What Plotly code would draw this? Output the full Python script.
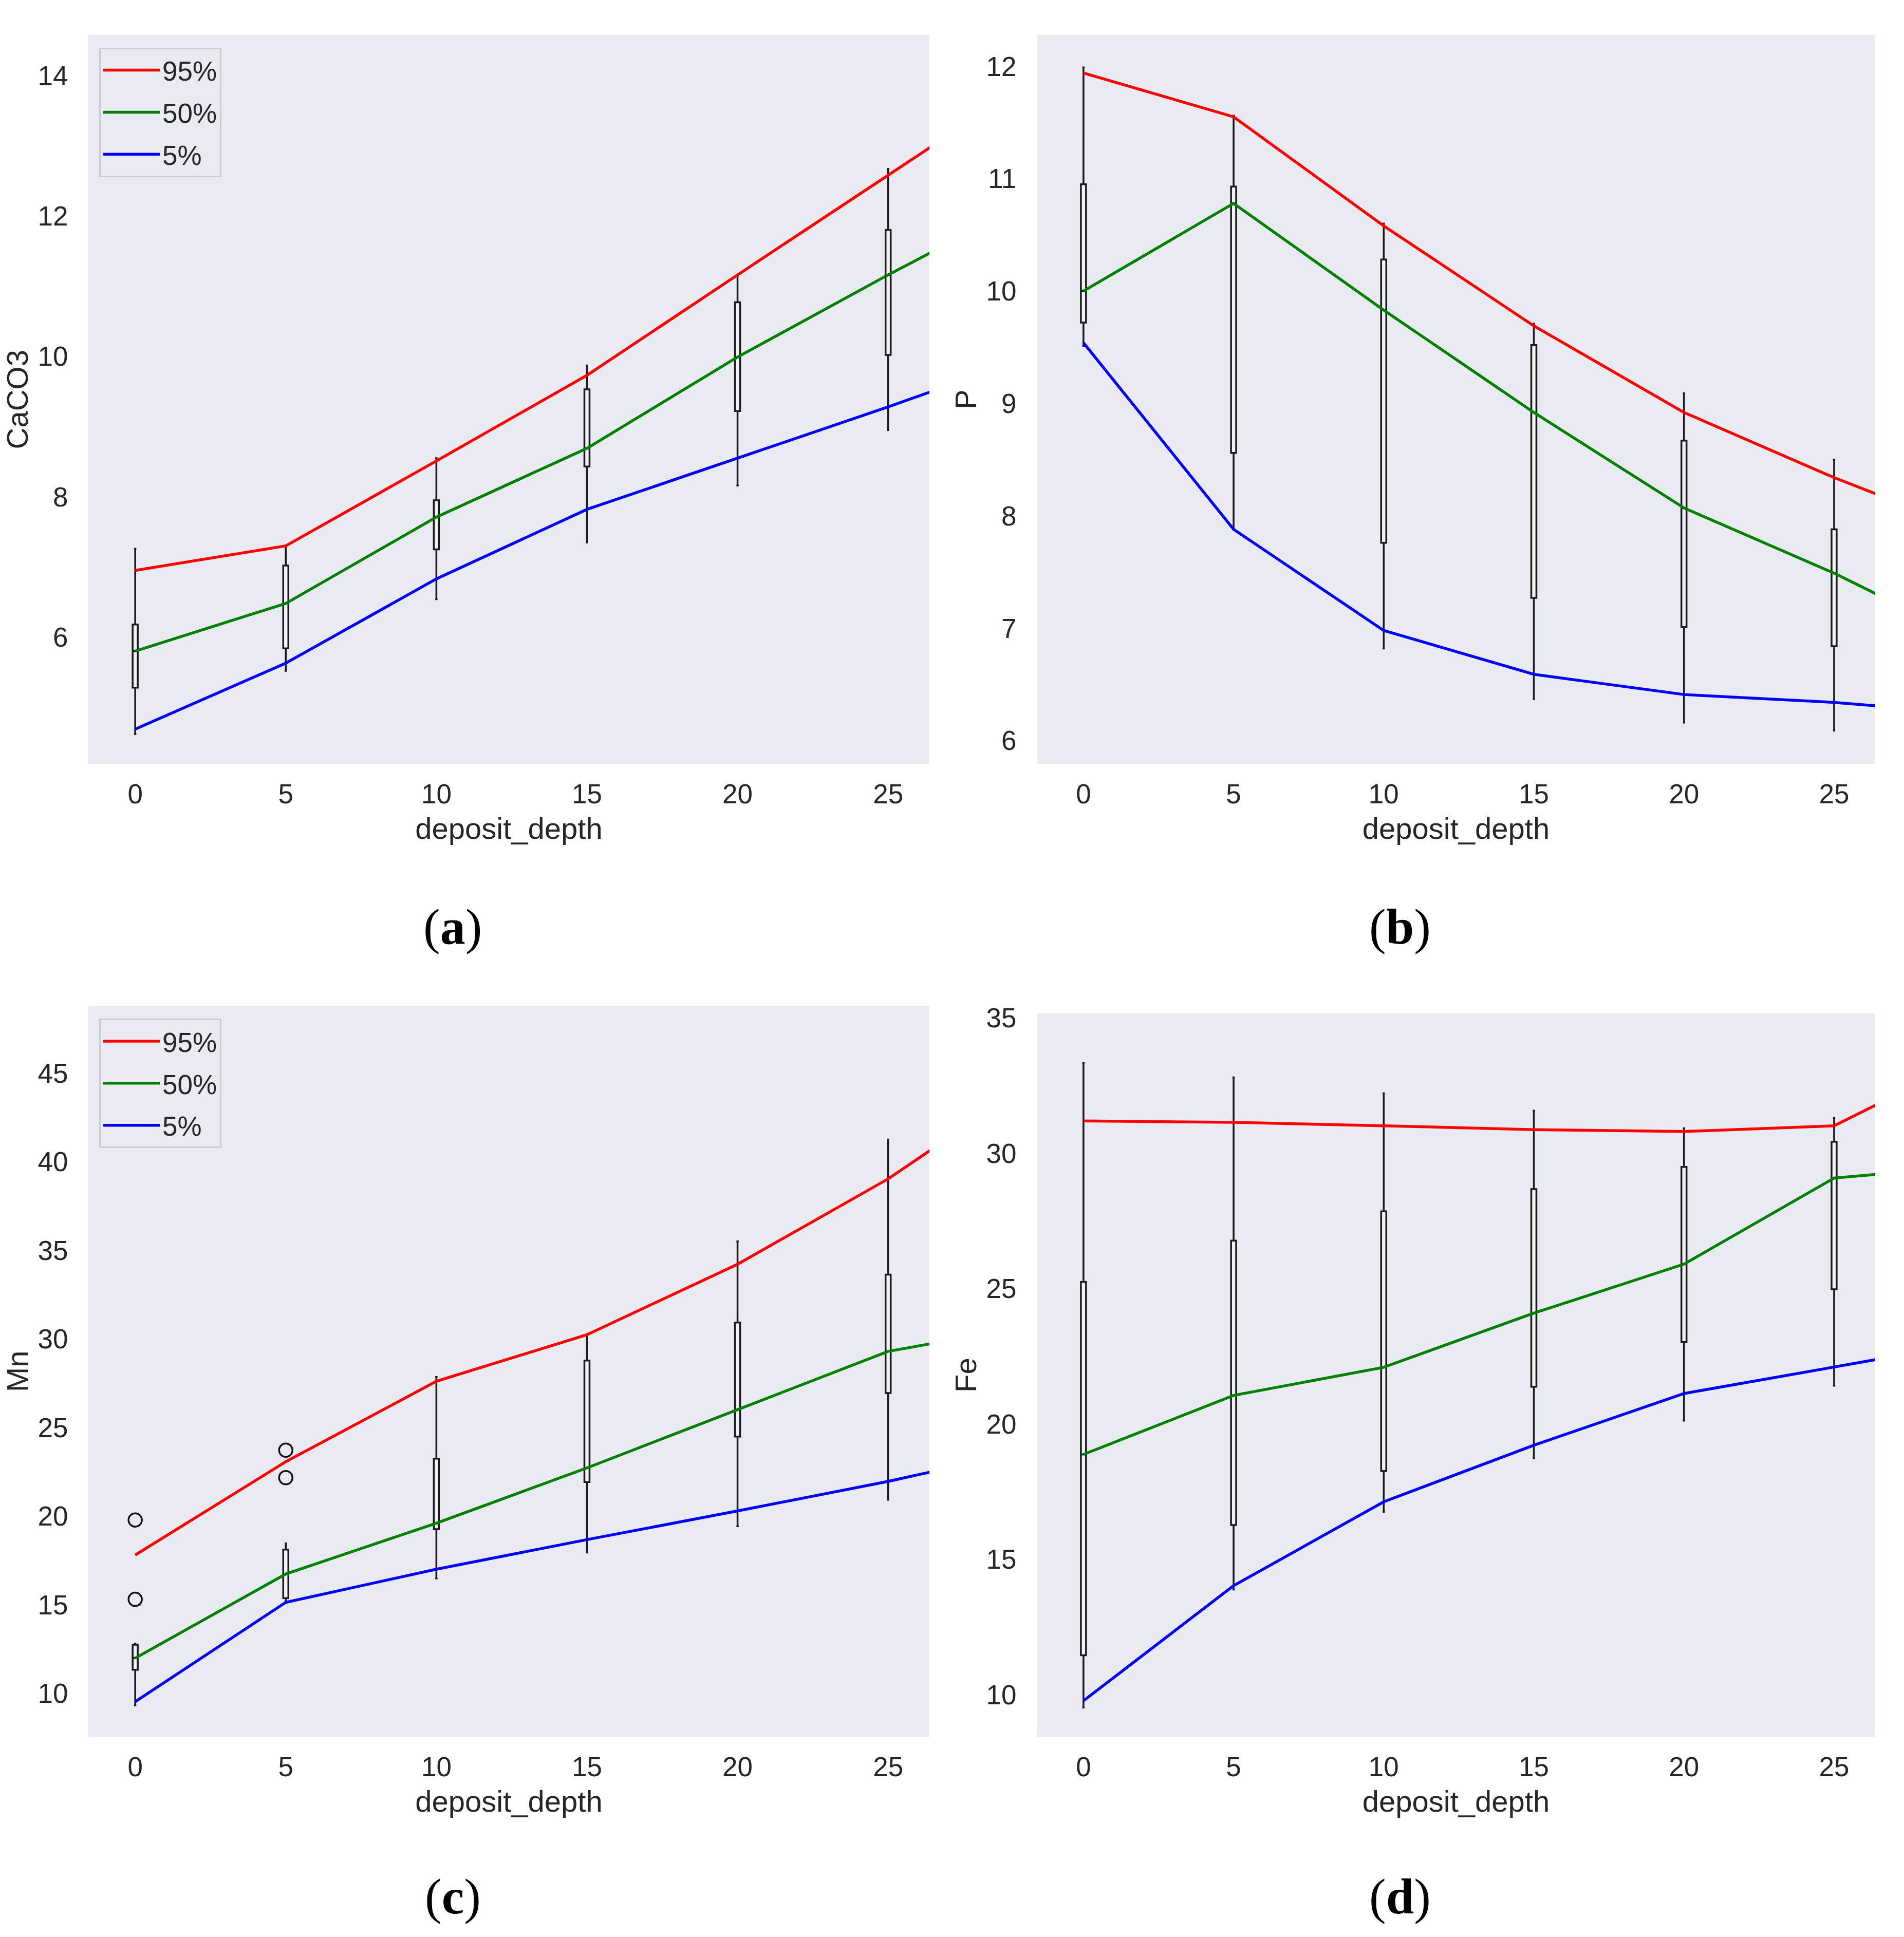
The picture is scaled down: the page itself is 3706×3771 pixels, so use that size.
import plotly.graph_objects as go

W, H = 3706, 3771

depth = [0, 5, 10, 15, 20, 25]
line_x = [0, 5, 10, 15, 20, 25, 30]
xtick_vals = [0, 5, 10, 15, 20, 25]

# ---- (a) CaCO3 ----
caco3_q95 = [6.95, 7.30, 8.51, 9.73, 11.16, 12.59, 14.00]
caco3_q50 = [5.80, 6.48, 7.71, 8.69, 9.99, 11.16, 12.28]
caco3_q05 = [4.69, 5.63, 6.83, 7.82, 8.55, 9.28, 10.04]
caco3_lo = [4.62, 5.52, 6.54, 7.35, 8.16, 8.95]
caco3_q1 = [5.28, 5.84, 7.25, 8.43, 9.22, 10.02]
caco3_med = [5.80, 6.48, 7.71, 8.69, 9.99, 11.16]
caco3_q3 = [6.18, 7.02, 7.95, 9.53, 10.77, 11.80]
caco3_hi = [7.26, 7.29, 8.55, 9.87, 11.16, 12.67]

# ---- (b) P ----
p_q95 = [11.94, 11.55, 10.58, 9.69, 8.92, 8.34, 7.82]
p_q50 = [10.00, 10.78, 9.83, 8.92, 8.07, 7.49, 6.83]
p_q05 = [9.54, 7.88, 6.98, 6.59, 6.41, 6.34, 6.23]
p_lo = [9.51, 7.88, 6.82, 6.37, 6.16, 6.09]
p_q1 = [9.72, 8.56, 7.76, 7.27, 7.01, 6.84]
p_med = [10.00, 10.78, 9.83, 8.92, 8.07, 7.49]
p_q3 = [10.95, 10.93, 10.28, 9.52, 8.67, 7.88]
p_hi = [11.99, 11.56, 10.60, 9.71, 9.09, 8.50]

# ---- (c) Mn ----
mn_q95 = [17.80, 23.07, 27.61, 30.24, 34.22, 39.04, 44.80]
mn_q50 = [11.98, 16.73, 19.60, 22.72, 26.01, 29.30, 30.82]
mn_q05 = [9.52, 15.13, 17.00, 18.67, 20.29, 21.96, 23.84]
mn_lo = [9.31, 15.20, 16.48, 17.94, 19.43, 20.92]
mn_q1 = [11.32, 15.37, 19.26, 21.92, 24.49, 26.95]
mn_med = [11.98, 16.73, 19.60, 22.72, 26.01, 29.30]
mn_q3 = [12.74, 18.11, 23.24, 28.78, 30.93, 33.63]
mn_hi = [12.80, 18.46, 27.85, 30.24, 35.51, 41.26]
mn_out_x = [0, 0, 5, 5]
mn_out_y = [19.78, 15.30, 23.72, 22.17]

# ---- (d) Fe ----
fe_q95 = [31.19, 31.14, 31.01, 30.87, 30.80, 31.01, 33.77]
fe_q50 = [18.87, 21.05, 22.09, 24.09, 25.90, 29.08, 29.56]
fe_q05 = [9.77, 14.02, 17.12, 19.21, 21.12, 22.09, 23.08]
fe_lo = [9.52, 13.88, 16.74, 18.73, 20.12, 21.41]
fe_q1 = [11.45, 16.26, 18.26, 21.37, 23.02, 24.97]
fe_med = [18.87, 21.05, 22.09, 24.09, 25.90, 29.08]
fe_q3 = [25.24, 26.77, 27.85, 28.67, 29.49, 30.42]
fe_hi = [33.34, 32.80, 32.21, 31.57, 30.92, 31.30]

series_names = ["95%", "50%", "5%"]
series_colors = ["#ff0000", "#008000", "#0000ff"]

FONT = "Liberation Sans Narrow, Liberation Sans, Arial, sans-serif"
TXT = "#262626"
BG = "#EAEAF2"
TICK_SIZE = 53
TITLE_SIZE = 58

panels = [
    dict(ax="", title="CaCO3", lines=[caco3_q95, caco3_q50, caco3_q05],
         box=(caco3_lo, caco3_q1, caco3_med, caco3_q3, caco3_hi),
         yr=[4.19, 14.58], yt=[6, 8, 10, 12, 14], leg="legend",
         xd=[172 / W, 1809 / W], yd=[1 - 1475 / H, 1 - 47 / H]),
    dict(ax="2", title="P", lines=[p_q95, p_q50, p_q05],
         box=(p_lo, p_q1, p_med, p_q3, p_hi),
         yr=[5.79, 12.28], yt=[6, 7, 8, 9, 10, 11, 12], leg=None,
         xd=[2018 / W, 3650 / W], yd=[1 - 1475 / H, 1 - 47 / H]),
    dict(ax="3", title="Mn", lines=[mn_q95, mn_q50, mn_q05],
         box=(mn_lo, mn_q1, mn_med, mn_q3, mn_hi),
         yr=[7.54, 48.81], yt=[10, 15, 20, 25, 30, 35, 40, 45], leg="legend2",
         xd=[172 / W, 1809 / W], yd=[1 - 3379 / H, 1 - 1948 / H]),
    dict(ax="4", title="Fe", lines=[fe_q95, fe_q50, fe_q05],
         box=(fe_lo, fe_q1, fe_med, fe_q3, fe_hi),
         yr=[8.44, 35.16], yt=[10, 15, 20, 25, 30, 35], leg=None,
         xd=[2018 / W, 3650 / W], yd=[1 - 3379 / H, 1 - 1963 / H]),
]

fig = go.Figure()

for p in panels:
    xa = "x" + p["ax"]
    ya = "y" + p["ax"]
    lo, q1, med, q3, hi = p["box"]
    fig.add_trace(go.Box(
        x=depth, q1=q1, median=med, q3=q3, lowerfence=lo, upperfence=hi,
        width=0.17, whiskerwidth=0.45, boxpoints=False,
        fillcolor="rgba(255,255,255,0.35)", line=dict(color="#1a1a1a", width=3.5),
        xaxis=xa, yaxis=ya, showlegend=False, hoverinfo="skip"))
    if p["ax"] == "3":
        fig.add_trace(go.Scatter(
            x=mn_out_x, y=mn_out_y, mode="markers",
            marker=dict(symbol="circle-open", size=26, color="#111111",
                        line=dict(width=3.5, color="#111111")),
            xaxis=xa, yaxis=ya, showlegend=False))
    for name, col, vals in zip(series_names, series_colors, p["lines"]):
        kw = {}
        if p["leg"]:
            kw["legend"] = p["leg"]
            kw["legendgroup"] = p["leg"] + name
        fig.add_trace(go.Scatter(
            x=line_x, y=vals, mode="lines", name=name,
            line=dict(color=col, width=5.5),
            xaxis=xa, yaxis=ya, showlegend=bool(p["leg"]), **kw))

layout = dict(
    width=W, height=H,
    margin=dict(l=0, r=0, t=0, b=0),
    paper_bgcolor="white",
    plot_bgcolor=BG,
    font=dict(family=FONT, size=TICK_SIZE, color=TXT),
)

for p in panels:
    xk = "xaxis" + p["ax"]
    yk = "yaxis" + p["ax"]
    layout[xk] = dict(
        domain=p["xd"], anchor="y" + p["ax"], range=[-1.555, 26.37],
        tickvals=xtick_vals, ticktext=[str(v) for v in xtick_vals],
        showgrid=False, zeroline=False, showline=False,
        ticks="outside", ticklen=12, tickcolor="rgba(0,0,0,0)",
        tickfont=dict(size=TICK_SIZE, family=FONT, color=TXT),
        title=dict(text="deposit_depth", standoff=18,
                   font=dict(size=TITLE_SIZE, family=FONT, color=TXT)),
    )
    layout[yk] = dict(
        domain=p["yd"], anchor="x" + p["ax"], range=p["yr"],
        tickvals=p["yt"],
        showgrid=False, zeroline=False, showline=False,
        ticks="outside", ticklen=28, tickcolor="rgba(0,0,0,0)",
        tickfont=dict(size=TICK_SIZE, family=FONT, color=TXT),
        title=dict(text=p["title"], standoff=0,
                   font=dict(size=TITLE_SIZE, family=FONT, color=TXT)),
    )

leg_common = dict(
    bgcolor=BG, bordercolor="#CCCCCC", borderwidth=3,
    font=dict(size=TICK_SIZE, family=FONT, color=TXT),
    xanchor="left", yanchor="top", itemwidth=110,
    tracegroupgap=10,
)
layout["legend"] = dict(x=193 / W, y=1 - 72 / H, **leg_common)
layout["legend2"] = dict(x=193 / W, y=1 - 1973 / H, **leg_common)

labels = [("a", 881, 1793), ("b", 2725, 1793), ("c", 881, 3692), ("d", 2725, 3692)]
layout["annotations"] = [
    dict(text="(<b>%s</b>)" % t, x=x / W, y=1 - y / H, xref="paper", yref="paper",
         xanchor="center", yanchor="middle", showarrow=False,
         font=dict(family="Liberation Serif, Times New Roman, serif", size=98, color="black"))
    for t, x, y in labels
]

fig.update_layout(**layout)
fig.write_html("out.html", config={"displayModeBar": False},
               post_script="document.body.style.margin='0px';")
